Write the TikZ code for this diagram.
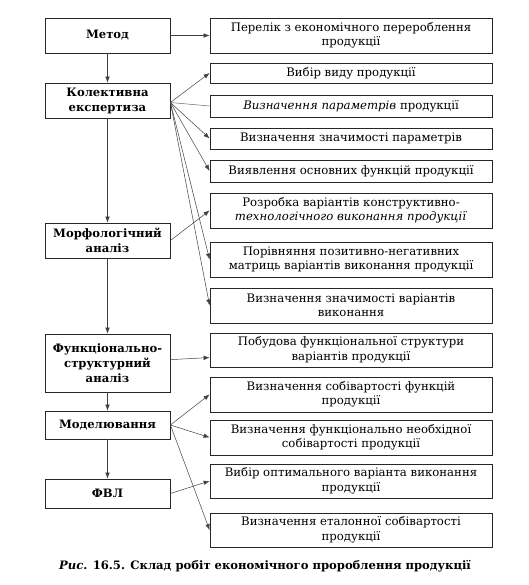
\documentclass[tikz,border=0pt]{standalone}
\usepackage{fontspec}
\setmainfont{DejaVu Serif}
\usetikzlibrary{arrows.meta}
\tikzset{
  box/.style={draw=black!85, line width=0.8pt, inner sep=1pt, align=center, font=\fontsize{11.7}{14.5}\selectfont},
  lbox/.style={box, minimum width=125pt, font=\fontsize{11.6}{15}\selectfont\bfseries},
  rbox/.style={box, minimum width=282pt},
  conn/.style={draw=black!75, line width=0.5pt, -{Latex[length=6pt,width=4.5pt]}},
  plain/.style={draw=black!60, line width=0.5pt}
}
\begin{document}
\begin{tikzpicture}[x=1pt,y=-1pt]
\useasboundingbox (0,0) rectangle (528,585);
% left column
\node[lbox, minimum height=35pt] (metod) at (107.5,35.5) {Метод};
\node[lbox, minimum height=35pt] (kol) at (107.5,100.5) {Колективна\\експертиза};
\node[lbox, minimum height=35pt] (morf) at (107.5,240.5) {Морфологічний\\аналіз};
\node[lbox, minimum height=58pt] (funk) at (107.5,363) {Функціонально-\\структурний\\аналіз};
\node[lbox, minimum height=28pt] (model) at (107.5,425) {Моделювання};
\node[lbox, minimum height=29pt] (fvl) at (107.5,493.5) {ФВЛ};
% right column
\node[rbox, minimum height=35pt] (r1) at (351,35.5) {Перелік з економічного перероблення\\продукції};
\node[rbox, minimum height=20pt] (r2) at (351,73) {Вибір виду продукції};
\node[rbox, minimum height=22pt] (r3) at (351,106) {\textit{Визначення параметрів} продукції};
\node[rbox, minimum height=21pt] (r4) at (351,138.5) {Визначення значимості параметрів};
\node[rbox, minimum height=22pt] (r5) at (351,171) {Виявлення основних функцій продукції};
\node[rbox, minimum height=35pt] (r6) at (351,210.5) {Розробка варіантів конструктивно-\\\textit{технологічного виконання продукції}};
\node[rbox, minimum height=35pt] (r7) at (351,259.5) {Порівняння позитивно-негативних\\матриць варіантів виконання продукції};
\node[rbox, minimum height=35pt] (r8) at (351,305.5) {Визначення значимості варіантів\\виконання};
\node[rbox, minimum height=34pt] (r9) at (351,350) {Побудова функціональної структури\\варіантів продукції};
\node[rbox, minimum height=35pt] (r10) at (351,394.5) {Визначення собівартості функцій\\продукції};
\node[rbox, minimum height=35pt] (r11) at (351,437.5) {Визначення функціонально необхідної\\собівартості продукції};
\node[rbox, minimum height=34pt] (r12) at (351,481) {Вибір оптимального варіанта виконання\\продукції};
\node[rbox, minimum height=34pt] (r13) at (351,530) {Визначення еталонної собівартості\\продукції};
% caption
\node[font=\fontsize{11.6}{14}\selectfont\bfseries] (cap) at (265,566) {\textit{Рис}. 16.5. Склад робіт економічного пророблення продукції};
% connectors
\draw[conn] (metod) -- (r1);
\draw[conn] (metod) -- (kol);
\draw[conn] (kol) -- (morf);
\draw[conn] (morf) -- (funk);
\draw[conn] (funk) -- (model);
\draw[conn] (model) -- (fvl);
\coordinate (ko) at ([yshift=-2pt]kol.east);
\draw[conn] (ko) -- (r2.west);
\draw[plain] (ko) -- (r3.west);
\draw[conn] (ko) -- (r4.west);
\draw[conn] (ko) -- (r5.west);
\draw[conn] (ko) -- (r7.west);
\draw[conn] (ko) -- (r8.west);
\draw[conn] (morf.east) -- (r6.west);
\draw[conn] (funk) -- (r9);
\draw[conn] (model.east) -- (r10.west);
\draw[conn] (model.east) -- (r11.west);
\draw[conn] (model.east) -- (r13.west);
\draw[conn] (fvl.east) -- (r12.west);
\end{tikzpicture}
\end{document}
